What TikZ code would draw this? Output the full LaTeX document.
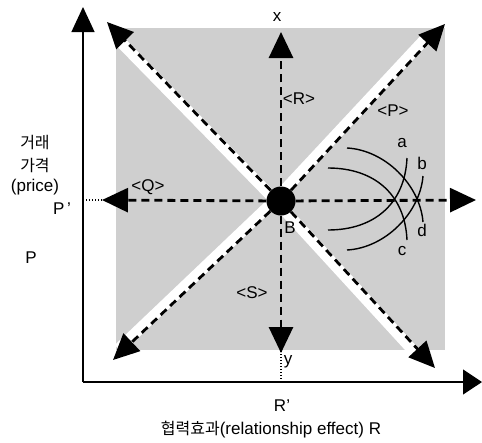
\documentclass[tikz,border=0pt]{standalone}
\usepackage{fontspec}
\setmainfont{Liberation Sans}
\newfontfamily\kr{Noto Sans CJK KR}
\usetikzlibrary{arrows.meta}
\begin{document}
\begin{tikzpicture}[x=1pt,y=-1pt,
  font=\fontsize{17}{20}\selectfont,
  lbl/.style={inner sep=0pt, anchor=center},
  band/.style={white, line width=11pt, shorten >=16pt},
  dline/.style={line width=2.8pt, dash pattern=on 8pt off 5pt, -{Triangle[length=26pt,width=24pt]}},
  axis/.style={line width=1.3pt},
  curve/.style={line width=1.4pt},
  dotl/.style={line width=1.3pt, dash pattern=on 1.3pt off 1.7pt}]
\useasboundingbox (0,0) rectangle (482,442);
% shaded field
\fill[black!19] (116,28) rectangle (445,350);
% reference points
\coordinate (O) at (281,200);
\coordinate (ul) at (107,22);
\coordinate (ur) at (445,24);
\coordinate (dl) at (113,360);
\coordinate (dr) at (435,368);
\coordinate (tp) at (281,32);
\coordinate (bt) at (281,353);
\coordinate (lf) at (102,200);
\coordinate (rt) at (476,200);
\coordinate (orig) at (83,382);
\coordinate (ytop) at (83,7);
\coordinate (xend) at (482,382);
\coordinate (pp) at (83,200);
\coordinate (rp) at (281,382);
% white bands
\draw[band] ([xshift=-6pt]O) -- ([xshift=-6pt]ul);
\draw[band] ([xshift=-6pt]O) -- ([xshift=-6pt]ur);
\draw[band] ([xshift=-6pt]O) -- ([xshift=-6pt]dl);
\draw[band] ([xshift=-6pt]O) -- ([xshift=-6pt]dr);
% axes
\draw[axis, -{Triangle[length=25pt,width=23pt]}] (orig) -- (ytop);
\draw[axis, -{Triangle[length=19pt,width=25pt]}] (orig) -- (xend);
% curves
\draw[curve] (347,148) .. controls (385,150) and (420,185) .. (423,222);
\draw[curve] (347,250) .. controls (385,248) and (420,213) .. (423,176);
\draw[curve] (328,168) .. controls (375,168) and (405,195) .. (407,240);
\draw[curve] (328,230) .. controls (375,230) and (405,203) .. (407,158);
% centre point
\node[circle, fill=black, minimum size=29pt, inner sep=0pt] (B) at (281,201) {};
% dashed arrows
\draw[dline] (B) -- (tp);
\draw[dline] (B) -- (bt);
\draw[dline] (B) -- (lf);
\draw[dline] (B) -- (rt);
\draw[dline] (B) -- (ul);
\draw[dline] (B) -- (ur);
\draw[dline] (B) -- (dl);
\draw[dline] (B) -- (dr);
% dotted guides
\draw[dotl] (pp) -- (lf);
\draw[dotl] ([yshift=2pt]bt) -- (rp);
% labels
\node[lbl] (lx) at (277,17) {x};
\node[lbl] (ly) at (288,362) {y};
\node[lbl] (lB) at (290,228) {B};
\node[lbl] (lR) at (299,99) {<R>};
\node[lbl] (lP) at (393,111) {<P>};
\node[lbl] (lQ) at (148,187) {<Q>};
\node[lbl] (lS) at (252,293) {<S>};
\node[lbl] (la) at (402,143) {a};
\node[lbl] (lb) at (422,163) {b};
\node[lbl] (lc) at (402,251) {c};
\node[lbl] (ld) at (422,230) {d};
\node[lbl] (k1) at (35,143) {\kr\fontsize{16}{18}\selectfont 거래};
\node[lbl] (k2) at (35,165) {\kr\fontsize{16}{18}\selectfont 가격};
\node[lbl] (lpr) at (35,187) {(price)};
\node[lbl] (lPp) at (62,209) {P\,’};
\node[lbl] (lPl) at (31,258) {P};
\node[lbl] (lRp) at (282,406) {R’};
\node[lbl] (lbot) at (271,430) {{\kr\fontsize{16}{18}\selectfont 협력효과}(relationship effect) R};
\end{tikzpicture}
\end{document}
